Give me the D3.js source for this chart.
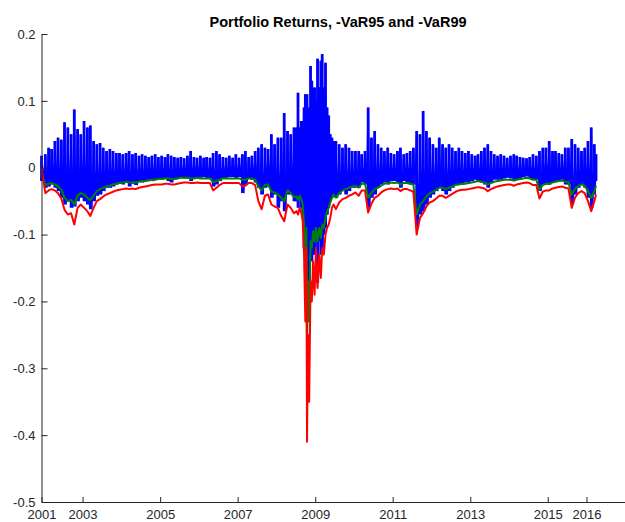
<!DOCTYPE html>
<html>
<head>
<meta charset="utf-8">
<script src="https://cdn.jsdelivr.net/npm/d3@7"></script>
<style>
  body { margin: 0; background: #fff; }
  svg { display: block; }
</style>
</head>
<body>
<svg id="chart" width="625" height="522"></svg>
<script>
// Sample dates (monthly, with a denser run through the 2008-09 crisis)
const sampleDates = [
  "2001-12-10",
  "2002-01-15","2002-02-15","2002-03-15","2002-04-15","2002-05-15","2002-06-15","2002-07-15","2002-08-15","2002-09-15","2002-10-15","2002-11-15","2002-12-15",
  "2003-01-15","2003-02-15","2003-03-15","2003-04-15","2003-05-15","2003-06-15","2003-07-15","2003-08-15","2003-09-15","2003-10-15","2003-11-15","2003-12-15",
  "2004-01-15","2004-02-15","2004-03-15","2004-04-15","2004-05-15","2004-06-15","2004-07-15","2004-08-15","2004-09-15","2004-10-15","2004-11-15","2004-12-15",
  "2005-01-15","2005-02-15","2005-03-15","2005-04-15","2005-05-15","2005-06-15","2005-07-15","2005-08-15","2005-09-15","2005-10-15","2005-11-15","2005-12-15",
  "2006-01-15","2006-02-15","2006-03-15","2006-04-15","2006-05-15","2006-06-15","2006-07-15","2006-08-15","2006-09-15","2006-10-15","2006-11-15","2006-12-15",
  "2007-01-15","2007-02-15","2007-03-15","2007-04-15","2007-05-15","2007-06-15","2007-07-15","2007-08-15","2007-09-15","2007-10-15","2007-11-15","2007-12-15",
  "2008-01-15","2008-02-15","2008-03-15","2008-04-15","2008-05-15","2008-06-15",
  "2008-07-08","2008-07-23","2008-08-08","2008-08-23","2008-09-05","2008-09-18","2008-09-30","2008-10-10","2008-10-16","2008-10-24",
  "2008-11-05","2008-11-18","2008-11-30","2008-12-12","2008-12-26","2009-01-08","2009-01-23","2009-02-08","2009-02-23","2009-03-08",
  "2009-03-23","2009-04-08","2009-04-23","2009-05-08","2009-05-23","2009-06-08","2009-06-23",
  "2009-07-15","2009-08-15","2009-09-15","2009-10-15","2009-11-15","2009-12-15",
  "2010-01-15","2010-02-15","2010-03-15","2010-04-15","2010-05-15","2010-06-15","2010-07-15","2010-08-15","2010-09-15","2010-10-15","2010-11-15","2010-12-15",
  "2011-01-15","2011-02-15","2011-03-15","2011-04-15","2011-05-15","2011-06-15","2011-07-15","2011-08-15","2011-09-15","2011-10-15","2011-11-15","2011-12-15",
  "2012-01-15","2012-02-15","2012-03-15","2012-04-15","2012-05-15","2012-06-15","2012-07-15","2012-08-15","2012-09-15","2012-10-15","2012-11-15","2012-12-15",
  "2013-01-15","2013-02-15","2013-03-15","2013-04-15","2013-05-15","2013-06-15","2013-07-15","2013-08-15","2013-09-15","2013-10-15","2013-11-15","2013-12-15",
  "2014-01-15","2014-02-15","2014-03-15","2014-04-15","2014-05-15","2014-06-15","2014-07-15","2014-08-15","2014-09-15","2014-10-15","2014-11-15","2014-12-15",
  "2015-01-15","2015-02-15","2015-03-15","2015-04-15","2015-05-15","2015-06-15","2015-07-15","2015-08-15","2015-09-15","2015-10-15","2015-11-15","2015-12-15",
  "2016-01-15","2016-02-15","2016-03-15","2016-03-31"
];

// Highest daily portfolio return within each sample period
const returnHigh = [
  0.018,
  0.02, 0.03, 0.028, 0.04, 0.045, 0.042, 0.068, 0.06, 0.05, 0.087, 0.058, 0.05,
  0.07, 0.06, 0.063, 0.04, 0.035, 0.037, 0.03, 0.025, 0.028, 0.025, 0.022, 0.022,
  0.02, 0.022, 0.025, 0.02, 0.022, 0.018, 0.02, 0.018, 0.016, 0.018, 0.02, 0.016,
  0.018, 0.016, 0.02, 0.018, 0.016, 0.015, 0.016, 0.014, 0.018, 0.025, 0.016, 0.015,
  0.018, 0.015, 0.016, 0.015, 0.022, 0.025, 0.02, 0.016, 0.015, 0.018, 0.015, 0.02,
  0.015, 0.02, 0.025, 0.016, 0.018, 0.025, 0.03, 0.035, 0.03, 0.028, 0.05, 0.035,
  0.045, 0.045, 0.082, 0.055, 0.05, 0.06,
  0.06, 0.112, 0.06, 0.07, 0.06, 0.09, 0.11, 0.1, 0.11, 0.08,
  0.09, 0.152, 0.13, 0.09, 0.12, 0.1, 0.163, 0.12, 0.16, 0.17,
  0.12, 0.157, 0.09, 0.078, 0.05, 0.045, 0.04,
  0.04, 0.035, 0.03, 0.035, 0.03, 0.025,
  0.025, 0.025, 0.02, 0.025, 0.09, 0.045, 0.055, 0.035, 0.03, 0.025, 0.03, 0.022,
  0.02, 0.025, 0.03, 0.02, 0.022, 0.025, 0.03, 0.055, 0.05, 0.085, 0.055, 0.045,
  0.035, 0.03, 0.045, 0.035, 0.03, 0.035, 0.03, 0.025, 0.03, 0.025, 0.022, 0.025,
  0.02, 0.018, 0.02, 0.025, 0.03, 0.035, 0.025, 0.02, 0.018, 0.02, 0.018, 0.015,
  0.018, 0.02, 0.018, 0.016, 0.015, 0.014, 0.016, 0.02, 0.018, 0.025, 0.03, 0.03,
  0.04, 0.025, 0.025, 0.022, 0.02, 0.03, 0.03, 0.043, 0.035, 0.03, 0.025, 0.03,
  0.04, 0.06, 0.035, 0.02
];

// Lowest daily portfolio return within each sample period
const returnLow = [
  -0.02,
  -0.03, -0.028, -0.025, -0.03, -0.035, -0.045, -0.055, -0.05, -0.06, -0.058, -0.05, -0.045,
  -0.05, -0.055, -0.062, -0.05, -0.042, -0.04, -0.035, -0.03, -0.03, -0.028, -0.025, -0.024,
  -0.025, -0.022, -0.028, -0.024, -0.026, -0.02, -0.022, -0.02, -0.018, -0.02, -0.018, -0.018,
  -0.018, -0.016, -0.02, -0.022, -0.018, -0.016, -0.015, -0.016, -0.016, -0.02, -0.016, -0.015,
  -0.015, -0.014, -0.016, -0.016, -0.028, -0.025, -0.02, -0.016, -0.015, -0.014, -0.014, -0.016,
  -0.014, -0.038, -0.025, -0.016, -0.018, -0.022, -0.03, -0.04, -0.03, -0.028, -0.045, -0.04,
  -0.06, -0.05, -0.065, -0.04, -0.04, -0.05,
  -0.05, -0.06, -0.045, -0.06, -0.07, -0.12, -0.16, -0.13, -0.2, -0.15,
  -0.17, -0.12, -0.14, -0.1, -0.13, -0.1, -0.172, -0.11, -0.13, -0.12,
  -0.1, -0.09, -0.07, -0.06, -0.05, -0.045, -0.04,
  -0.045, -0.04, -0.035, -0.04, -0.035, -0.03,
  -0.03, -0.03, -0.022, -0.025, -0.06, -0.045, -0.04, -0.03, -0.025, -0.022, -0.025, -0.02,
  -0.02, -0.022, -0.03, -0.02, -0.022, -0.025, -0.025, -0.09, -0.07, -0.065, -0.055, -0.045,
  -0.04, -0.035, -0.03, -0.035, -0.04, -0.035, -0.03, -0.025, -0.025, -0.025, -0.022, -0.022,
  -0.02, -0.018, -0.02, -0.022, -0.025, -0.03, -0.022, -0.018, -0.018, -0.018, -0.016, -0.015,
  -0.016, -0.02, -0.018, -0.016, -0.014, -0.013, -0.016, -0.018, -0.018, -0.035, -0.025, -0.025,
  -0.025, -0.022, -0.02, -0.02, -0.018, -0.025, -0.025, -0.055, -0.04, -0.03, -0.025, -0.03,
  -0.045, -0.06, -0.04, -0.02
];

// -VaR at 95%
const negVaR95 = [
  -0.008,
  -0.026, -0.024, -0.023, -0.025, -0.028, -0.033, -0.045, -0.05, -0.048, -0.055, -0.042, -0.038,
  -0.04, -0.045, -0.048, -0.042, -0.035, -0.032, -0.03, -0.028, -0.027, -0.025, -0.024, -0.023,
  -0.022, -0.021, -0.022, -0.022, -0.022, -0.021, -0.02, -0.02, -0.019, -0.018, -0.018, -0.017,
  -0.017, -0.016, -0.016, -0.017, -0.017, -0.016, -0.015, -0.015, -0.015, -0.016, -0.016, -0.015,
  -0.016, -0.016, -0.016, -0.016, -0.022, -0.02, -0.018, -0.016, -0.016, -0.016, -0.016, -0.016,
  -0.016, -0.018, -0.018, -0.016, -0.016, -0.018, -0.028, -0.034, -0.026, -0.025, -0.036, -0.037,
  -0.04, -0.045, -0.05, -0.034, -0.038, -0.044,
  -0.043, -0.048, -0.042, -0.047, -0.055, -0.085, -0.15, -0.09, -0.27, -0.17,
  -0.23, -0.11, -0.12, -0.095, -0.11, -0.09, -0.11, -0.09, -0.105, -0.085,
  -0.09, -0.075, -0.065, -0.06, -0.052, -0.045, -0.04,
  -0.045, -0.038, -0.034, -0.032, -0.03, -0.028,
  -0.027, -0.03, -0.024, -0.024, -0.045, -0.037, -0.032, -0.03, -0.027, -0.024, -0.023, -0.022,
  -0.023, -0.022, -0.025, -0.023, -0.023, -0.024, -0.025, -0.07, -0.055, -0.05, -0.043, -0.038,
  -0.036, -0.033, -0.03, -0.03, -0.032, -0.03, -0.028, -0.026, -0.025, -0.024, -0.024, -0.023,
  -0.022, -0.021, -0.02, -0.021, -0.022, -0.025, -0.023, -0.021, -0.02, -0.019, -0.018, -0.018,
  -0.018, -0.019, -0.018, -0.017, -0.016, -0.015, -0.016, -0.018, -0.018, -0.033, -0.026, -0.024,
  -0.024, -0.022, -0.021, -0.02, -0.019, -0.021, -0.022, -0.04, -0.032, -0.027, -0.025, -0.027,
  -0.035, -0.045, -0.035, -0.027
];

// -VaR at 99%
const negVaR99 = [
  -0.001,
  -0.038, -0.034, -0.032, -0.034, -0.038, -0.046, -0.063, -0.07, -0.068, -0.085, -0.06, -0.055,
  -0.06, -0.065, -0.072, -0.06, -0.05, -0.047, -0.043, -0.04, -0.038, -0.036, -0.034, -0.033,
  -0.032, -0.031, -0.032, -0.031, -0.032, -0.03, -0.029, -0.028, -0.027, -0.026, -0.025, -0.025,
  -0.025, -0.024, -0.024, -0.025, -0.025, -0.024, -0.023, -0.022, -0.022, -0.023, -0.023, -0.022,
  -0.023, -0.023, -0.023, -0.023, -0.034, -0.03, -0.026, -0.023, -0.023, -0.023, -0.023, -0.023,
  -0.023, -0.028, -0.027, -0.023, -0.023, -0.026, -0.05, -0.062, -0.042, -0.04, -0.055, -0.058,
  -0.06, -0.072, -0.08, -0.055, -0.06, -0.068,
  -0.065, -0.07, -0.06, -0.068, -0.08, -0.13, -0.23, -0.12, -0.41, -0.25,
  -0.35, -0.17, -0.2, -0.14, -0.19, -0.12, -0.18, -0.13, -0.165, -0.12,
  -0.13, -0.1, -0.09, -0.085, -0.075, -0.06, -0.055,
  -0.062, -0.052, -0.047, -0.045, -0.042, -0.04,
  -0.037, -0.042, -0.034, -0.034, -0.067, -0.054, -0.045, -0.042, -0.037, -0.034, -0.032, -0.031,
  -0.032, -0.031, -0.035, -0.032, -0.032, -0.034, -0.036, -0.1, -0.075, -0.068, -0.058, -0.052,
  -0.05, -0.046, -0.042, -0.042, -0.045, -0.042, -0.039, -0.036, -0.034, -0.033, -0.033, -0.032,
  -0.031, -0.03, -0.029, -0.03, -0.031, -0.035, -0.032, -0.03, -0.028, -0.027, -0.026, -0.025,
  -0.025, -0.027, -0.025, -0.024, -0.023, -0.022, -0.023, -0.026, -0.026, -0.046, -0.036, -0.034,
  -0.034, -0.031, -0.03, -0.029, -0.028, -0.03, -0.031, -0.06, -0.045, -0.038, -0.035, -0.038,
  -0.05, -0.065, -0.05, -0.04
];

const yTickValues = [0.2, 0.1, 0, -0.1, -0.2, -0.3, -0.4, -0.5];
const yTickLabels = ["0.2", "0.1", "0", "-0.1", "-0.2", "-0.3", "-0.4", "-0.5"];
const xTickDates = ["2001-12-10", "2003-01-01", "2005-01-01", "2007-01-01", "2009-01-01",
                    "2011-01-01", "2013-01-01", "2015-01-01", "2016-01-01"];
const xTickLabels = ["2001", "2003", "2005", "2007", "2009", "2011", "2013", "2015", "2016"];
const chartTitle = "Portfolio Returns, -VaR95 and -VaR99";

const parse = d3.timeParse("%Y-%m-%d");
const dates = sampleDates.map(parse);

const svg = d3.select("#chart");
const margin = { left: 41.5, right: 625, top: 34, bottom: 502 };

const x = d3.scaleTime()
  .domain([parse("2001-12-10"), parse("2016-12-29")])
  .range([margin.left, margin.right]);

const y = d3.scaleLinear()
  .domain([-0.5, 0.2])
  .range([margin.bottom, margin.top]);

const plot = svg.append("g");

// Returns: each period's range as a vertical stroke, joined by a high/low zigzag
const rangePath = d3.path();
dates.forEach((d, i) => {
  const xi = x(d);
  rangePath.moveTo(xi, y(returnHigh[i]));
  rangePath.lineTo(xi, y(returnLow[i]));
});

const zigPoints = [];
dates.forEach((d, i) => {
  const xi = x(d);
  zigPoints.push([xi, y(returnHigh[i])]);
  const xn = i < dates.length - 1 ? (xi + x(dates[i + 1])) / 2 : xi;
  zigPoints.push([xn, y(returnLow[i])]);
});

plot.append("path")
  .attr("d", rangePath.toString())
  .attr("fill", "none")
  .attr("stroke", "#0000ff")
  .attr("stroke-width", 2.8);

plot.append("path")
  .attr("d", d3.line()(zigPoints))
  .attr("fill", "none")
  .attr("stroke", "#0000ff")
  .attr("stroke-width", 1.4)
  .attr("stroke-linejoin", "miter")
  .attr("stroke-miterlimit", 2);

const varLine = vals => d3.line()
  .x((d, i) => x(dates[i]))
  .y(d => y(d))(vals);

plot.append("path")
  .attr("d", varLine(negVaR95))
  .attr("fill", "none")
  .attr("stroke", "#008000")
  .attr("stroke-width", 2)
  .attr("stroke-linejoin", "round");

plot.append("path")
  .attr("d", varLine(negVaR99))
  .attr("fill", "none")
  .attr("stroke", "#ff0000")
  .attr("stroke-width", 2)
  .attr("stroke-linejoin", "round");

// Axes (ticks point inward)
const fontFamily = "'Liberation Sans', Arial, Helvetica, sans-serif";

const yAxis = d3.axisLeft(y)
  .tickValues(yTickValues)
  .tickFormat((d, i) => yTickLabels[i])
  .tickSizeInner(-6)
  .tickSizeOuter(0)
  .tickPadding(6);

const xAxis = d3.axisBottom(x)
  .tickValues(xTickDates.map(parse))
  .tickFormat((d, i) => xTickLabels[i])
  .tickSizeInner(-5)
  .tickSizeOuter(0)
  .tickPadding(8);

const gy = svg.append("g")
  .attr("transform", `translate(${margin.left},0)`)
  .call(yAxis);

const gx = svg.append("g")
  .attr("transform", `translate(0,${margin.bottom})`)
  .call(xAxis);

[gx, gy].forEach(g => {
  g.select(".domain").attr("stroke", "#262626").attr("stroke-width", 1);
  g.selectAll(".tick line").attr("stroke", "#262626").attr("stroke-width", 1);
  g.selectAll(".tick text")
    .attr("fill", "#262626")
    .style("font-family", fontFamily)
    .style("font-size", "13px");
});

svg.append("text")
  .attr("x", 338)
  .attr("y", 27)
  .attr("text-anchor", "middle")
  .style("font-family", fontFamily)
  .style("font-size", "14.5px")
  .style("font-weight", "bold")
  .attr("fill", "#000")
  .text(chartTitle);
</script>
</body>
</html>
